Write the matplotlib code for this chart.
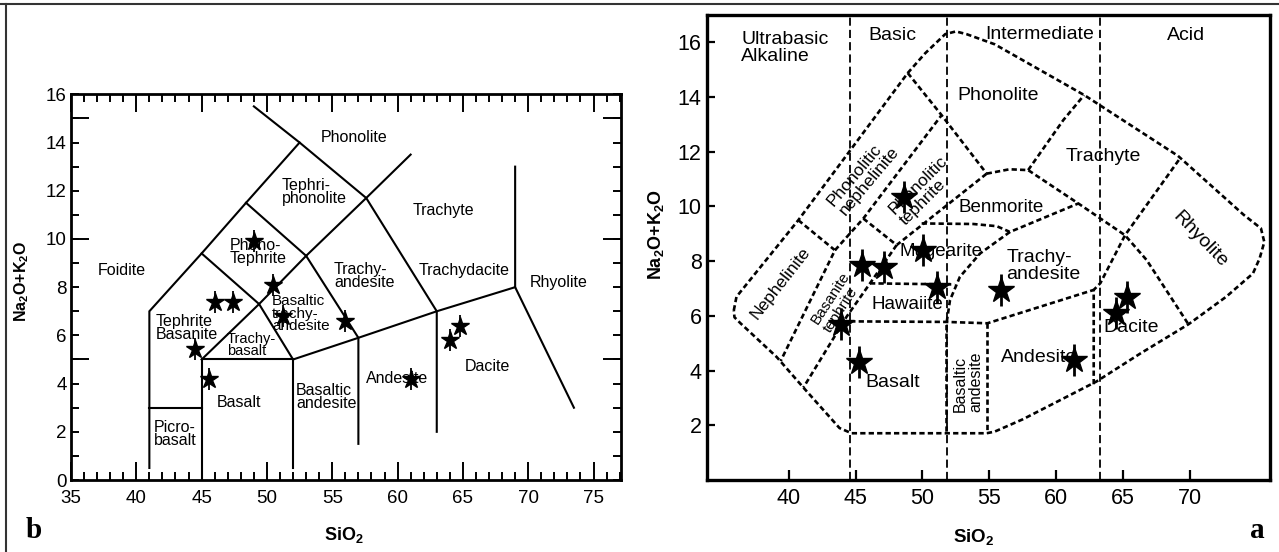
import matplotlib
matplotlib.use("Agg")
import matplotlib.pyplot as plt
from matplotlib.lines import Line2D

plt.rcParams['font.family'] = ['Liberation Sans', 'DejaVu Sans']
plt.rcParams['mathtext.fontset'] = 'custom'
plt.rcParams['mathtext.rm'] = 'Liberation Sans'
plt.rcParams['mathtext.bf'] = 'Liberation Sans:bold'

#---------- Panel b : TAS classification (solid field boundaries) ----------
b_star_sio2 = [49.0, 50.5, 46.05, 47.4, 51.25, 56.0, 44.5, 45.6, 61.05, 64.05, 64.8]
b_star_alk = [9.9, 8.1, 7.4, 7.4, 6.8, 6.6, 5.45, 4.2, 4.2, 5.8, 6.4]

b_bounds = [
    [(41, 0.5), (41, 7), (45, 9.4), (48.4, 11.5), (52.5, 14), (57.6, 11.7), (63, 7), (63, 2)],
    [(41, 3), (45, 3)],
    [(45, 0), (45, 5), (52, 5), (52, 0.5)],
    [(45, 5), (49.4, 7.3), (52, 5)],
    [(52, 5), (57, 5.9), (63, 7), (69, 8), (69, 13)],
    [(69, 8), (73.5, 3)],
    [(57, 1.5), (57, 5.9), (53, 9.3), (49.4, 7.3), (45, 9.4)],
    [(53, 9.3), (57.6, 11.7), (61, 13.5)],
    [(48.4, 11.5), (53, 9.3)],
    [(52.5, 14), (49, 15.5)],
]

b_fields = [
    ("Phonolite", 56.7, 14.2, 11.5),
    ("Tephri-\nphonolite", 53.6, 11.95, 11.5),
    ("Trachyte", 63.5, 11.2, 11.5),
    ("Phono-\nTephrite", 49.3, 9.47, 11.5),
    ("Foidite", 38.9, 8.7, 11.5),
    ("Trachy-\nandesite", 57.45, 8.45, 11.5),
    ("Trachydacite", 65.1, 8.7, 11.5),
    ("Rhyolite", 72.3, 8.2, 11.5),
    ("Basaltic\ntrachy-\nandesite", 52.6, 6.9, 11),
    ("Tephrite\nBasanite", 43.9, 6.3, 11.5),
    ("Trachy-\nbasalt", 48.8, 5.6, 10.5),
    ("Dacite", 66.9, 4.7, 11.5),
    ("Andesite", 60.0, 4.2, 11.5),
    ("Basalt", 47.85, 3.23, 11.5),
    ("Basaltic\nandesite", 54.55, 3.43, 11.5),
    ("Picro-\nbasalt", 43.0, 1.9, 11.5),
]

#---------- Panel a : Cox et al. style diagram (dashed boundaries) ----------
a_star_sio2 = [48.6, 50.05, 45.5, 47.1, 51.1, 43.9, 45.25, 55.9, 61.3, 64.5, 65.3]
a_star_alk = [10.35, 8.4, 7.85, 7.8, 7.05, 5.7, 4.3, 6.95, 4.4, 6.1, 6.7]

a_outline = [(35.9, 6.2), (36.1, 6.7), (40.72, 9.5), (48.9, 14.88), (50.2, 15.6),
             (51.7, 16.3), (52.5, 16.4), (53.3, 16.3), (55.4, 15.93), (62.1, 14.07),
             (69.1, 11.85), (74.0, 9.7), (75.3, 9.2), (75.55, 8.7), (75.2, 8.1),
             (74.7, 7.55), (72.7, 6.7), (69.9, 5.7), (66.3, 4.63), (63.0, 3.6),
             (57.5, 2.22), (55.4, 1.77), (54.8, 1.71), (44.7, 1.71), (43.8, 1.9),
             (41.1, 3.38), (39.1, 4.5), (36.4, 5.73), (35.95, 5.95), (35.9, 6.2)]

a_bounds = [
    [(40.72, 9.5), (43.46, 8.4), (39.4, 4.35)],
    [(43.46, 8.4), (45.58, 9.56), (51.43, 13.34)],
    [(48.9, 14.88), (51.43, 13.34), (54.8, 11.2)],
    [(45.58, 9.56), (48.07, 8.59), (54.8, 11.2)],
    [(48.07, 8.59), (46.08, 7.19), (44.33, 5.97), (41.1, 3.38)],
    [(46.08, 7.19), (52.4, 7.15)],
    [(49.94, 9.38), (53.8, 9.36), (55.55, 9.28), (56.54, 9.07), (61.65, 10.11)],
    [(54.8, 11.2), (56.5, 11.36), (57.9, 11.33), (61.65, 10.11), (65.14, 8.95),
     (66.76, 8.04), (69.87, 5.7)],
    [(57.9, 11.33), (60.53, 13.16), (62.08, 14.07)],
    [(56.54, 9.07), (54.3, 8.28), (52.8, 7.43), (52.06, 6.58), (51.8, 5.73), (51.8, 1.72)],
    [(44.6, 5.8), (51.8, 5.78), (54.85, 5.73), (62.8, 6.95)],
    [(54.85, 5.73), (54.85, 1.72)],
    [(62.8, 3.5), (62.8, 6.95), (63.3, 7.2), (65.14, 8.95), (69.25, 11.76)],
]

a_dividers = [44.6, 51.8, 63.3]

a_fields = [
    ("Ultrabasic\nAlkaline", 39.73, 15.78, 0, 14),
    ("Basic", 47.77, 16.25, 0, 14),
    ("Intermediate", 58.73, 16.29, 0, 14),
    ("Acid", 69.69, 16.25, 0, 14),
    ("Phonolite", 55.69, 14.04, 0, 14),
    ("Trachyte", 63.54, 11.84, 0, 14),
    ("Benmorite", 55.9, 9.95, 0, 13.5),
    ("Mugearite", 51.42, 8.36, 0, 13.5),
    ("Trachy-\nandesite", 59.04, 7.82, 0, 14),
    ("Hawaiite", 48.84, 6.41, 0, 13.5),
    ("Basalt", 47.77, 3.58, 0, 14),
    ("Andesite", 58.75, 4.48, 0, 14),
    ("Dacite", 65.6, 5.57, 0, 14),
    ("Basaltic\nandesite", 53.4, 3.58, 90, 11.5),
    ("Nephelinite", 39.4, 7.18, 52, 12.5),
    ("Phonolitic\nnephelinite", 45.58, 11.1, 50, 12.5),
    ("Phonolitic\ntephrite", 50.1, 10.59, 45, 12.5),
    ("Basanite\ntephrite", 43.6, 6.5, 57, 11),
    ("Rhyolite", 70.76, 8.79, -46, 14),
]

#---------- Figure ----------
fig = plt.figure(figsize=(12.79, 5.52), dpi=100)

# frame lines of the published figure (top and left edge)
fig.add_artist(Line2D([0, 1], [0.9928, 0.9928], transform=fig.transFigure, color="#333", lw=1.5))
fig.add_artist(Line2D([0.0047, 0.0047], [0, 0.9928], transform=fig.transFigure, color="#333", lw=1.5))

#---------- Left panel (b) ----------
axb = fig.add_axes([0.0555, 0.1304, 0.4300, 0.6987])
for seg in b_bounds:
    xs, ys = zip(*seg)
    axb.plot(xs, ys, color="black", lw=1.5, solid_joinstyle="miter")

for name, x, y, fs in b_fields:
    axb.text(x, y, name, fontsize=fs, ha="center", va="center",
             multialignment="left", linespacing=0.85)

# stars drawn as a star plus a thin vertical spike, as in the original
axb.plot(b_star_sio2, b_star_alk, linestyle="none", marker="|", ms=16, mew=1.3, color="black", zorder=5)
axb.plot(b_star_sio2, b_star_alk, linestyle="none", marker="*", ms=13.5, color="black", zorder=6)

axb.set_xlim(35, 77.1)
axb.set_ylim(0, 16)
axb.set_xticks(range(35, 80, 5))
axb.set_xticks(range(35, 78), minor=True)
axb.set_yticks(range(0, 17, 2))
axb.set_yticks(range(0, 17), minor=True)
axb.tick_params(axis="x", which="major", direction="in", length=13, width=1.4,
                top=True, labelsize=13.5, pad=7)
axb.tick_params(axis="x", which="minor", direction="in", length=6, width=1.4, top=True)
axb.tick_params(axis="y", which="both", direction="in", length=6, width=1.4,
                right=True, labelsize=13.5, pad=3)
for sp in axb.spines.values():
    sp.set_linewidth(2)

# longer ticks every 5 units on the vertical axes
for side in ["left", "right"]:
    sec = axb.secondary_yaxis(side)
    sec.set_yticks([5, 10, 15])
    sec.tick_params(direction="in", length=13, width=1.4, labelleft=False, labelright=False)
    sec.spines[side].set_visible(False)

axb.set_xlabel("SiO$_\\mathbf{2}$", fontsize=13, fontweight="bold")
axb.xaxis.set_label_coords(0.496, -0.117)
axb.set_ylabel(r"$\mathbf{Na_2O{+}K_2O}$", fontsize=11.5)
axb.yaxis.set_label_coords(-0.073, 0.516)

#---------- Right panel (a) ----------
axa = fig.add_axes([0.5525, 0.1304, 0.4404, 0.8424])
for xd in a_dividers:
    axa.axvline(xd, color="black", lw=1.3, linestyle=(0, (4.5, 2.3)))

ox, oy = zip(*a_outline)
axa.plot(ox, oy, color="black", lw=1.9, linestyle=(0, (2.0, 1.2)))
for seg in a_bounds:
    xs, ys = zip(*seg)
    axa.plot(xs, ys, color="black", lw=1.9, linestyle=(0, (2.0, 1.2)))

for name, x, y, rot, fs in a_fields:
    axa.text(x, y, name, fontsize=fs, ha="center", va="center", rotation=rot,
             multialignment="left", linespacing=1.0)

axa.plot(a_star_sio2, a_star_alk, linestyle="none", marker="|", ms=23, mew=2.0, color="black", zorder=5)
axa.plot(a_star_sio2, a_star_alk, linestyle="none", marker="*", ms=19, color="black", zorder=6)

axa.set_xlim(33.87, 75.97)
axa.set_ylim(0, 17)
axa.set_xticks(range(40, 71, 5))
axa.set_yticks(range(2, 17, 2))
axa.tick_params(axis="x", direction="in", length=7, width=1.6, labelsize=15.5, pad=5.5)
axa.tick_params(axis="y", direction="in", length=6, width=1.6, labelsize=15.5, pad=3.6)
for sp in axa.spines.values():
    sp.set_linewidth(2.4)

axa.set_xlabel("SiO$_\\mathbf{2}$", fontsize=13.5, fontweight="bold")
axa.xaxis.set_label_coords(0.4745, -0.103)
axa.set_ylabel(r"$\mathbf{Na_2O{+}K_2O}$", fontsize=13)
axa.yaxis.set_label_coords(-0.072, 0.529)

#---------- Panel letters ----------
fig.text(26 / 1279, 14 / 552, "b", fontsize=21, fontweight="bold",
         family="Liberation Serif", va="baseline", ha="left")
fig.text(1250 / 1279, 14 / 552, "a", fontsize=21, fontweight="bold",
         family="Liberation Serif", va="baseline", ha="left")

plt.savefig("out.png", dpi=100)
